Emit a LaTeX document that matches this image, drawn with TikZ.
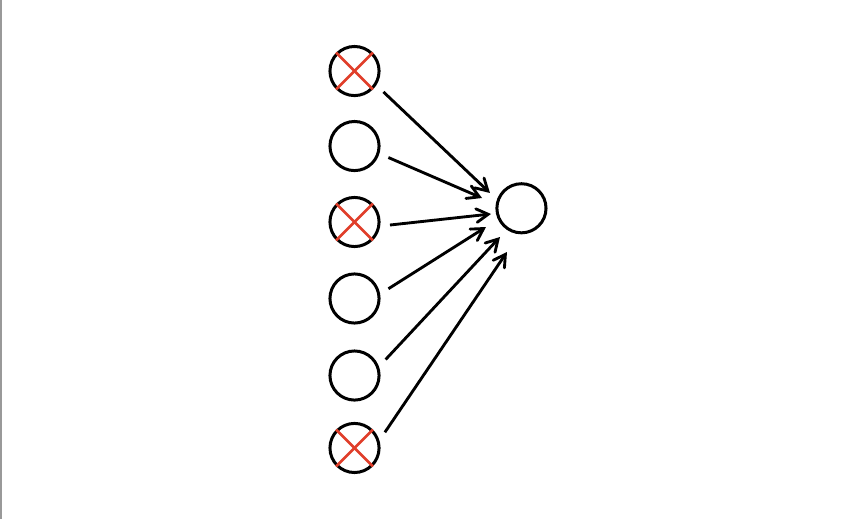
\documentclass[tikz,border=0pt]{standalone}
\usepackage{tikz}
\usetikzlibrary{arrows}

\begin{document}
\begin{tikzpicture}[
    unit/.style={circle, draw, line width=0.04cm, minimum size=0.655cm, inner sep=0pt},
    cross/.style={draw=crossred, line width=0.034cm},
    link/.style={->, >=angle 60, line width=0.038cm, shorten <=0.13cm}
  ]
        \definecolor{crossred}{RGB}{224,62,42}
        \useasboundingbox (0,0) rectangle (11.347,-6.92);
        \draw [gray!80, line width=0.025cm] (0.01,0) -- (0.01,-6.92);
        \node [unit] (in1) at (4.727,-0.947) {};
        \node [unit] (in2) at (4.727,-1.947) {};
        \node [unit] (in3) at (4.727,-2.96) {};
        \node [unit] (in4) at (4.727,-3.98) {};
        \node [unit] (in5) at (4.727,-5.007) {};
        \node [unit] (in6) at (4.727,-5.973) {};
        \node [unit] (out) at (6.953,-2.777) {};
        \coordinate (t1) at (6.533,-2.573);
        \coordinate (t2) at (6.427,-2.64);
        \coordinate (t3) at (6.547,-2.853);
        \coordinate (t4) at (6.48,-3.027);
        \coordinate (t5) at (6.667,-3.16);
        \coordinate (t6) at (6.76,-3.36);
        \draw [cross] (in1.north west) to (in1.south east);
        \draw [cross] (in1.north east) to (in1.south west);
        \draw [cross] (in3.north west) to (in3.south east);
        \draw [cross] (in3.north east) to (in3.south west);
        \draw [cross] (in6.north west) to (in6.south east);
        \draw [cross] (in6.north east) to (in6.south west);
        \draw [link] (in1.-33) to (t1);
        \draw [link] (in2.-17) to (t2);
        \draw [link] (in3.-9) to (t3);
        \draw [link] (in4.10) to (t4);
        \draw [link] (in5.20) to (t5);
        \draw [link] (in6.17) to (t6);
      \end{tikzpicture}
\end{document}
